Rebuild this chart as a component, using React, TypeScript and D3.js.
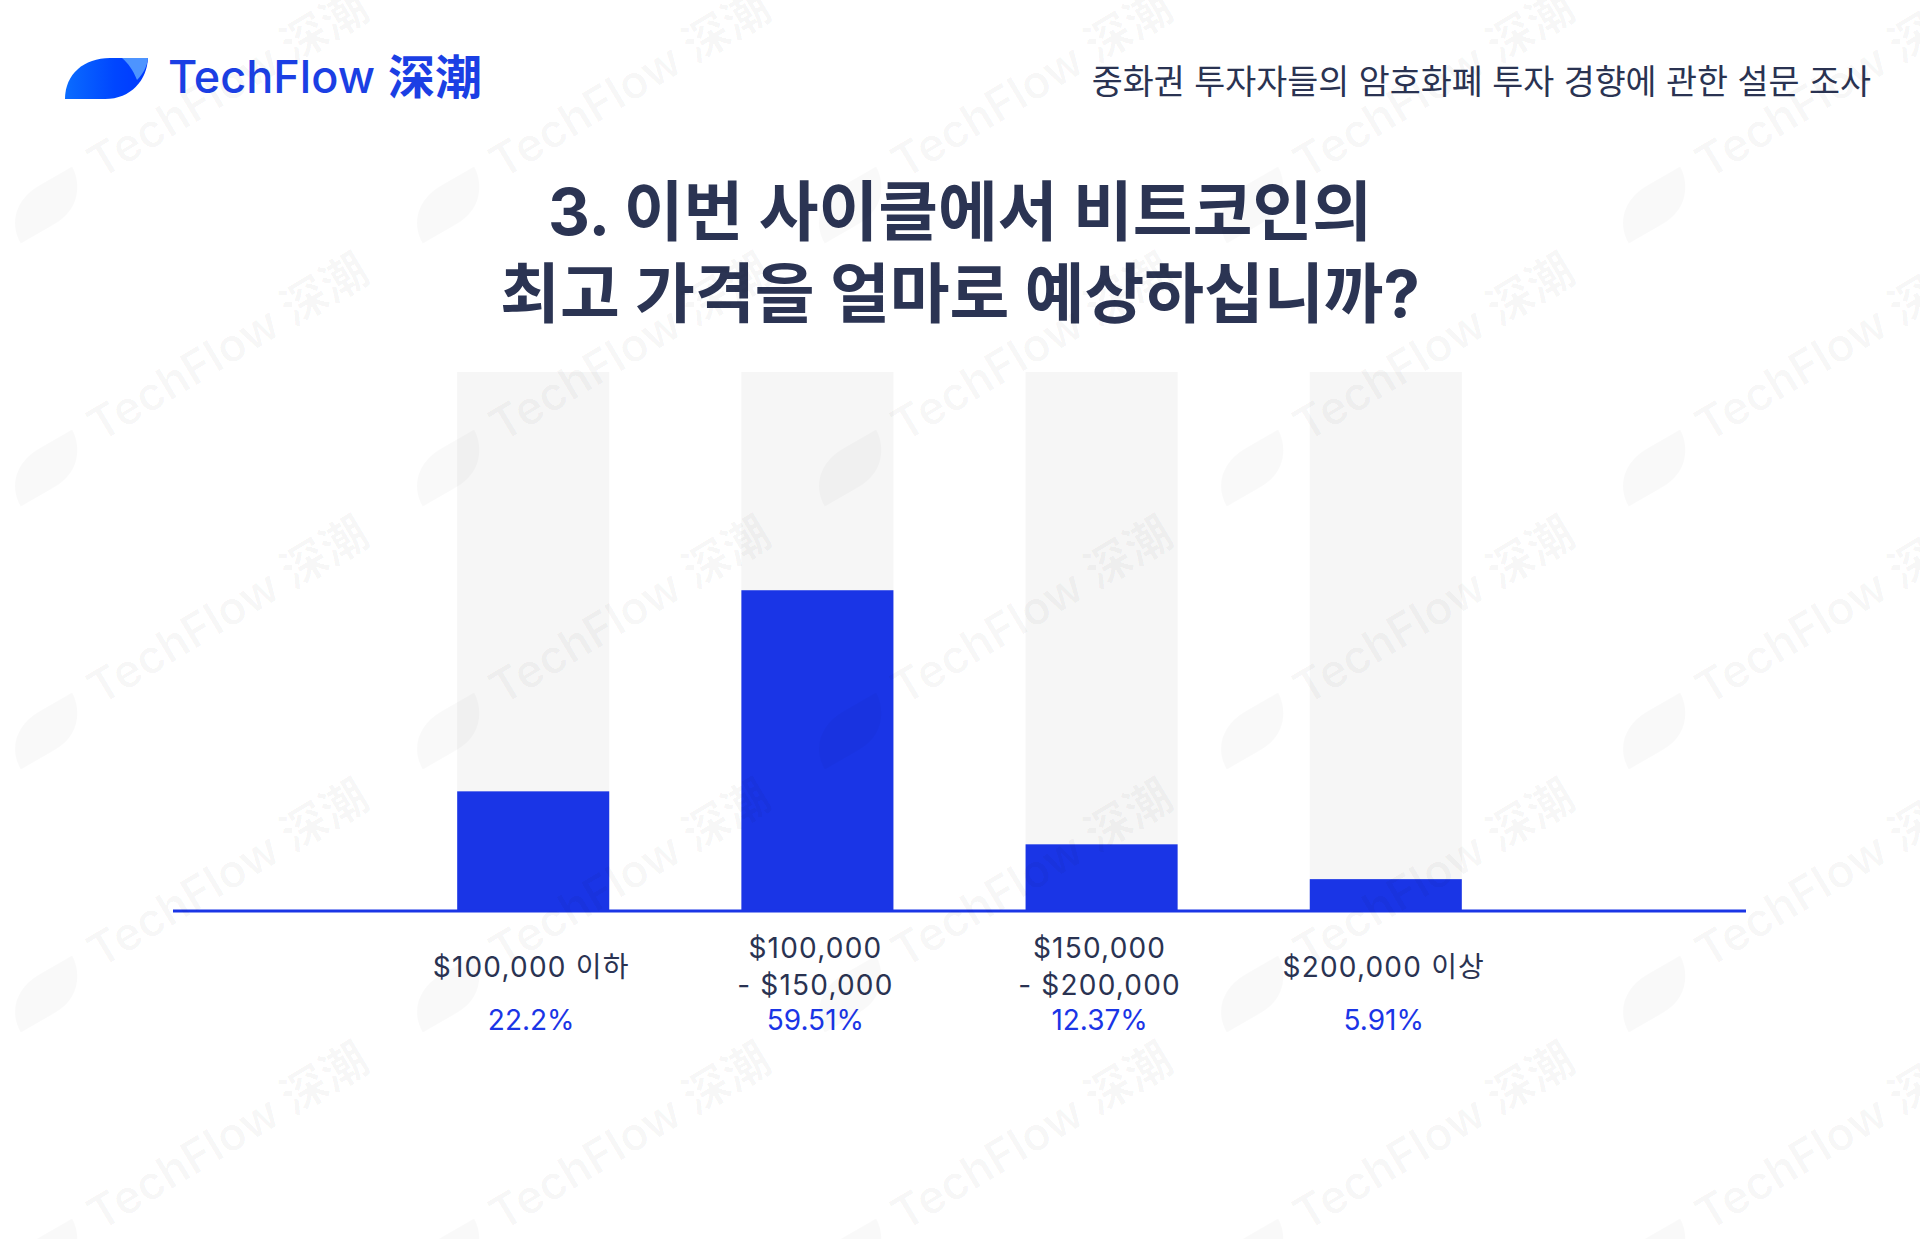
import React from "react";
import * as d3 from "d3";

const W = 1920;
const H = 1239;

const categoryLines: string[][] = [
  ["$100,000 이하"],
  ["$100,000", "- $150,000"],
  ["$150,000", "- $200,000"],
  ["$200,000 이상"],
];
const categoryKeys = ["lt100k", "100k-150k", "150k-200k", "gt200k"];
const values = [22.2, 59.51, 12.37, 5.91];
const valueLabels = ["22.2%", "59.51%", "12.37%", "5.91%"];
const titleLines = ["3. 이번 사이클에서 비트코인의", "최고 가격을 얼마로 예상하십니까?"];
const subtitle = "중화권 투자자들의 암호화폐 투자 경향에 관한 설문 조사";
const brand = "TechFlow";
const brandCn = "深潮";

const NAVY = "#2a3352";
const BLUE = "#1a35e6";
const FONT = "Inter, 'Noto Sans CJK KR', 'Noto Sans', sans-serif";

const leafPath = "M65,99 C65,74 84,58 110,58 L148,58 C147,80 131,99 105,99 Z";
const leafHiPath = "M122,58 L148,58 C147,67 143,74 137,80 C133,70 128,63 122,58 Z";

export default function App() {
  const x = d3
    .scaleBand<string>()
    .domain(categoryKeys)
    .range([173, 1746])
    .paddingInner(0.465)
    .paddingOuter(1.0);
  const y = d3.scaleLinear().domain([0, 100]).range([911, 372]);

  const cols = d3.range(0, 5);
  const rows = d3.range(-1, 5);

  return (
    <svg
      width={W}
      height={H}
      viewBox={`0 0 ${W} ${H}`}
      style={{ position: "absolute", left: 0, top: 0, background: "#fff" }}
    >
      <defs>
        <linearGradient id="leafGrad" x1="0" y1="0" x2="1" y2="0">
          <stop offset="0%" stopColor="#0a6cff" />
          <stop offset="60%" stopColor="#0046ff" />
          <stop offset="100%" stopColor="#0038ff" />
        </linearGradient>
      </defs>
      <rect x={0} y={0} width={W} height={H} fill="#ffffff" />

      {/* Header logo */}
      <path d={leafPath} fill="url(#leafGrad)" />
      <path d={leafHiPath} fill="#4d94ff" />
      <text x={168} y={93} fontFamily="Inter, sans-serif" fontWeight={500} fontSize={45} fill="#1b3fe4">
        {brand}
      </text>
      <text x={388} y={94} fontFamily="'Noto Sans CJK SC', sans-serif" fontWeight={700} fontSize={47} fill="#1b3fe4">
        {brandCn}
      </text>

      {/* Subtitle */}
      <text x={1871} y={94} textAnchor="end" fontFamily={FONT} fontWeight={400} fontSize={33.7} fill={NAVY}>
        {subtitle}
      </text>

      {/* Title */}
      {titleLines.map((t, i) => (
        <text
          key={i}
          x={960}
          y={235 + i * 82}
          textAnchor="middle"
          fontFamily={FONT}
          fontWeight={700}
          fontSize={65}
          fill="#2b3453"
        >
          {t}
        </text>
      ))}

      {/* Bars */}
      {categoryKeys.map((k, i) => (
        <g key={k}>
          <rect x={x(k)} y={y(100)} width={x.bandwidth()} height={y(0) - y(100)} fill="#f6f6f6" />
          <rect x={x(k)} y={y(values[i])} width={x.bandwidth()} height={y(0) - y(values[i])} fill={BLUE} />
        </g>
      ))}

      {/* Axis line */}
      <line x1={x.range()[0]} x2={x.range()[1]} y1={y(0)} y2={y(0)} stroke={BLUE} strokeWidth={3} />

      {/* Category labels */}
      {categoryKeys.map((k, i) => {
        const cx = (x(k) as number) + x.bandwidth() / 2 - 2;
        const lines = categoryLines[i];
        return (
          <g key={k}>
            {lines.map((ln, j) => (
              <text
                key={j}
                x={cx}
                y={976.5 + (j - (lines.length - 1) / 2) * 37}
                textAnchor="middle"
                fontFamily={FONT}
                fontSize={28}
                letterSpacing={1.2}
                fill={NAVY}
              >
                {ln}
              </text>
            ))}
            <text x={cx} y={1030} textAnchor="middle" fontFamily={FONT} fontSize={28} fill={BLUE}>
              {valueLabels[i]}
            </text>
          </g>
        );
      })}

      {/* Watermarks */}
      <g pointerEvents="none">
        {rows.map((r) =>
          cols.map((c) => (
            <g key={`${r}-${c}`}>
              <g transform={`translate(${46.5 + 402 * c},${205 + 263 * r}) rotate(-30) translate(-106.5,-78.5)`}>
                <path d={leafPath} fill="#000" fillOpacity={0.025} />
              </g>
              <text
                transform={`translate(${100 + 402 * c},${180 + 263 * r}) rotate(-31)`}
                fontFamily="Inter, 'Noto Sans CJK SC', sans-serif"
                fontWeight={600}
                fontSize={46}
                fill="#000"
                fillOpacity={0.032}
              >
                TechFlow 深潮
              </text>
            </g>
          ))
        )}
      </g>
    </svg>
  );
}
